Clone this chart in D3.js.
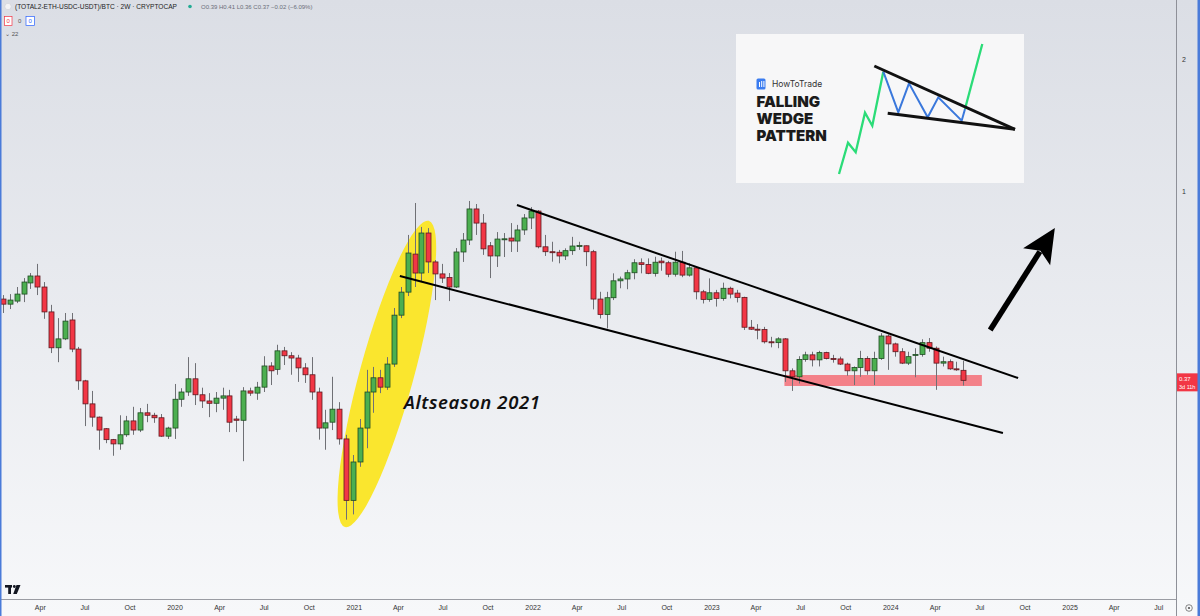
<!DOCTYPE html>
<html><head><meta charset="utf-8">
<script src="https://cdn.jsdelivr.net/npm/d3@7"></script>
<style>html,body{margin:0;padding:0;background:#fff;overflow:hidden}svg{display:block}</style>
</head><body>
<svg id="c" width="1200" height="616"></svg>
<script>
// ---------------- DATA ----------------
const symbolTitle = "(TOTAL2-ETH-USDC-USDT)/BTC · 2W · CRYPTOCAP";
const legendOHLC = "O0.39 H0.41 L0.36 C0.37 −0.02 (−6.09%)";
const firstBarDate = "2019-01-16";
const barDays = 14;
const open  = [.567,.552,.561,.582,.617,.640,.604,.530,.439,.460,.508,.436,.369,.327,.305,.287,.271,.265,.278,.299,.285,.312,.308,.304,.276,.288,.335,.348,.373,.343,.332,.328,.337,.341,.302,.300,.350,.346,.357,.399,.392,.432,.421,.416,.395,.381,.348,.288,.297,.318,.272,.197,.241,.288,.348,.375,.357,.403,.521,.588,.718,.650,.802,.689,.647,.635,.604,.726,.773,.910,.845,.750,.711,.777,.781,.769,.815,.868,.900,.746,.727,.725,.711,.731,.748,.750,.727,.567,.523,.571,.624,.630,.651,.686,.680,.649,.692,.686,.646,.688,.643,.668,.589,.566,.586,.569,.600,.585,.572,.489,.484,.483,.453,.451,.460,.389,.377,.413,.423,.412,.428,.415,.414,.403,.389,.396,.415,.389,.415,.467,.448,.430,.405,.422,.424,.451,.438,.405,.408,.393,.39];
const high  = [.579,.582,.604,.633,.650,.682,.620,.550,.513,.527,.527,.441,.371,.350,.306,.288,.272,.308,.307,.322,.320,.327,.312,.310,.290,.363,.355,.418,.405,.356,.346,.348,.356,.352,.307,.357,.356,.367,.420,.407,.446,.441,.429,.423,.405,.418,.356,.317,.377,.330,.278,.250,.302,.391,.397,.391,.418,.541,.604,.794,.939,.828,.823,.696,.682,.650,.741,.802,.949,.934,.886,.765,.806,.802,.845,.837,.886,.919,.905,.794,.766,.734,.740,.786,.766,.751,.734,.589,.589,.649,.638,.661,.699,.702,.702,.708,.705,.693,.727,.730,.684,.672,.595,.632,.595,.618,.605,.595,.574,.508,.497,.490,.465,.464,.462,.394,.420,.430,.430,.432,.430,.423,.419,.406,.398,.432,.420,.430,.474,.471,.451,.438,.430,.438,.459,.462,.442,.419,.413,.408,.41];
const low   = [.527,.538,.555,.558,.598,.579,.511,.427,.407,.457,.429,.352,.291,.290,.257,.266,.249,.257,.275,.278,.282,.297,.296,.275,.272,.272,.322,.341,.325,.320,.305,.313,.317,.282,.282,.242,.341,.334,.348,.361,.381,.401,.381,.367,.365,.334,.271,.257,.285,.264,.178,.183,.235,.259,.312,.346,.352,.397,.513,.576,.604,.620,.650,.564,.617,.561,.601,.689,.753,.794,.715,.633,.671,.707,.726,.726,.794,.819,.740,.711,.690,.684,.696,.715,.734,.674,.537,.512,.486,.564,.600,.597,.629,.649,.646,.638,.658,.636,.638,.636,.638,.566,.554,.559,.545,.562,.569,.557,.482,.482,.459,.449,.440,.438,.367,.350,.364,.408,.398,.398,.413,.406,.401,.379,.361,.377,.381,.361,.412,.391,.419,.403,.401,.376,.419,.430,.352,.398,.391,.389,.36];
const close = [.552,.564,.582,.620,.640,.604,.530,.439,.460,.505,.436,.369,.327,.305,.285,.271,.265,.278,.299,.285,.312,.308,.304,.276,.288,.335,.348,.373,.343,.332,.328,.337,.341,.297,.300,.350,.346,.357,.399,.389,.432,.421,.416,.395,.381,.348,.288,.296,.318,.272,.197,.241,.288,.348,.375,.357,.403,.521,.588,.722,.650,.802,.689,.647,.633,.604,.726,.773,.910,.845,.738,.711,.777,.778,.769,.815,.868,.900,.746,.727,.725,.711,.731,.749,.751,.727,.567,.523,.571,.624,.630,.651,.686,.680,.649,.688,.686,.646,.688,.643,.668,.589,.566,.586,.569,.600,.582,.572,.489,.484,.483,.453,.451,.460,.389,.377,.413,.423,.412,.428,.415,.414,.403,.389,.396,.415,.389,.415,.467,.448,.430,.405,.419,.424,.451,.438,.405,.408,.393,.392,.37];
const priceTicks = [1, 2];
const timeTickDates  = ["2019-04-01","2019-07-01","2019-10-01","2020-01-01","2020-04-01","2020-07-01","2020-10-01","2021-01-01","2021-04-01","2021-07-01","2021-10-01","2022-01-01","2022-04-01","2022-07-01","2022-10-01","2023-01-01","2023-04-01","2023-07-01","2023-10-01","2024-01-01","2024-04-01","2024-07-01","2024-10-01","2025-01-01","2025-04-01","2025-07-01"];
const timeTickLabels = ["Apr","Jul","Oct","2020","Apr","Jul","Oct","2021","Apr","Jul","Oct","2022","Apr","Jul","Oct","2023","Apr","Jul","Oct","2024","Apr","Jul","Oct","2025","Apr","Jul"];
// drawings, anchored in (date, price)
const upperLine = [["2021-11-30", 0.929], ["2024-09-18", 0.3745]];
const lowerLine = [["2021-04-05", 0.640], ["2024-08-18", 0.2806]];
const supportZone = [["2023-05-30", 0.3805], ["2024-07-06", 0.3592]];
const altEllipse = [["2020-12-14", 0.1713], ["2021-06-03", 0.855]];
const altLabel = ["2021-04-13", 0.318, "Altseason 2021"];
const arrowPts = [["2024-07-23", 0.482], ["2024-12-02", 0.8235]];
const countdown = "3d 11h";

// ---------------- CHART ----------------
const W = 1200, H = 616, plotR = 1176, plotB = 599;
const svg = d3.select("#c");
const defs = svg.append("defs");
const g0 = defs.append("linearGradient").attr("id","bg").attr("x1",0).attr("y1",0).attr("x2",0).attr("y2",1);
g0.append("stop").attr("offset","0%").attr("stop-color","#dbdee5");
g0.append("stop").attr("offset","100%").attr("stop-color","#f7f8fa");
defs.append("clipPath").attr("id","plot").append("rect").attr("x",0).attr("y",0).attr("width",plotR).attr("height",plotB);
svg.append("rect").attr("width",W).attr("height",H).attr("fill","url(#bg)");

const pd = s => new Date(s + "T00:00:00Z");
const x = d3.scaleUtc().domain([pd("2020-01-01"), pd("2025-01-01")]).range([174.5, 174.5 + 0.4899 * 1827]);
const y = d3.scaleLog().domain([1, 2]).range([191, 59]);

const t0 = pd(firstBarDate);
const bars = open.map((o, i) => ({t: d3.utcDay.offset(t0, i * barDays), o, h: high[i], l: low[i], c: close[i]}));

const plot = svg.append("g").attr("clip-path","url(#plot)");

// yellow ellipse (under candles)
{
  const p1 = [x(pd(altEllipse[0][0])), y(altEllipse[0][1])];
  const p2 = [x(pd(altEllipse[1][0])), y(altEllipse[1][1])];
  const cx = (p1[0]+p2[0])/2, cy = (p1[1]+p2[1])/2;
  const rx = Math.hypot(p2[0]-p1[0], p2[1]-p1[1]) / 2;
  const ang = Math.atan2(p2[1]-p1[1], p2[0]-p1[0]) * 180 / Math.PI;
  plot.append("ellipse").attr("cx",cx).attr("cy",cy).attr("rx",rx).attr("ry",27)
    .attr("transform",`rotate(${ang},${cx},${cy})`).attr("fill","#fae62e");
}
// support zone
plot.append("rect")
  .attr("x", x(pd(supportZone[0][0]))).attr("y", y(supportZone[0][1]))
  .attr("width", x(pd(supportZone[1][0])) - x(pd(supportZone[0][0])))
  .attr("height", y(supportZone[1][1]) - y(supportZone[0][1]))
  .attr("fill","#f56d77").attr("opacity",0.85);

// candles
const bw = 5;
const cg = plot.append("g");
cg.selectAll("line.w").data(bars).join("line").attr("class","w")
  .attr("x1", d => Math.round(x(d.t)) + 0.5).attr("x2", d => Math.round(x(d.t)) + 0.5)
  .attr("y1", d => y(d.h)).attr("y2", d => y(d.l))
  .attr("stroke","#6f7075").attr("stroke-width",1);
cg.selectAll("rect.b").data(bars).join("rect").attr("class","b")
  .attr("x", d => Math.round(x(d.t)) + 0.5 - bw/2)
  .attr("y", d => Math.min(y(d.o), y(d.c)))
  .attr("width", bw)
  .attr("height", d => Math.max(1, Math.abs(y(d.o) - y(d.c))))
  .attr("fill", d => d.c >= d.o ? "#4caf50" : "#f23645")
  .attr("stroke", d => d.c >= d.o ? "#1f4a22" : "#5c1a20")
  .attr("stroke-width", 0.8);

// wedge lines
[upperLine, lowerLine].forEach(L => {
  plot.append("line")
    .attr("x1", x(pd(L[0][0]))).attr("y1", y(L[0][1]))
    .attr("x2", x(pd(L[1][0]))).attr("y2", y(L[1][1]))
    .attr("stroke","#000").attr("stroke-width",2);
});

// arrow
{
  const a = [x(pd(arrowPts[0][0])), y(arrowPts[0][1])];
  const b = [x(pd(arrowPts[1][0])), y(arrowPts[1][1])];
  const len = Math.hypot(b[0]-a[0], b[1]-a[1]);
  const u = [(b[0]-a[0])/len, (b[1]-a[1])/len], n = [-u[1], u[0]];
  const hl = 34, hw = 16;
  const base = [b[0]-hl*u[0], b[1]-hl*u[1]];
  plot.append("line").attr("x1",a[0]).attr("y1",a[1]).attr("x2",base[0]+6*u[0]).attr("y2",base[1]+6*u[1])
    .attr("stroke","#000").attr("stroke-width",5.5);
  plot.append("path").attr("d", d3.line()([b, [base[0]+hw*n[0], base[1]+hw*n[1]], [base[0]+7*u[0], base[1]+7*u[1]], [base[0]-hw*n[0], base[1]-hw*n[1]]]) + "Z")
    .attr("fill","#000");
}

// label
plot.append("text").attr("x", x(pd(altLabel[0]))).attr("y", y(altLabel[1]))
  .attr("font-family","'Noto Sans', 'Open Sans', sans-serif").attr("font-style","italic").attr("font-weight",600)
  .attr("font-size",18.5).attr("letter-spacing",0.6).attr("fill","#111").text(altLabel[2]);

// ---------------- inset image ----------------
{
  const ix = 736, iy = 34;
  const inset = svg.append("g").attr("transform",`translate(${ix},${iy})`);
  inset.append("rect").attr("width",288).attr("height",149).attr("fill","#f7f7f8");
  inset.append("rect").attr("x",20.5).attr("y",44.5).attr("width",9).attr("height",11).attr("rx",1.5).attr("fill","#3b7cf0");
  [23,25.2,27.4].forEach((bx,i)=> inset.append("rect").attr("x",bx).attr("y",47+ (i===0?1:0)).attr("width",1).attr("height",6-(i===0?1:0)).attr("fill","#fff"));
  inset.append("text").attr("x",36).attr("y",53).attr("font-family","Inter, 'Open Sans', sans-serif").attr("font-size",8.5).attr("fill","#333").text("HowToTrade");
  ["FALLING","WEDGE","PATTERN"].forEach((t,i)=> inset.append("text").attr("x",20.5).attr("y",73 + i*17)
      .attr("font-family","Inter, 'Open Sans', sans-serif").attr("font-weight",900).attr("font-size",15).attr("fill","#1b1b1b").text(t));
  const L = d3.line();
  const green1 = [[103,140],[112,108.7],[119.7,118.3],[129,78.7],[136.3,91.7],[147.3,37.7]];
  const blue = [[147.3,37.7],[162.3,78.3],[173,49.3],[191.7,83.3],[202.3,63.3],[225.7,86.7],[229,75]];
  const green2 = [[229,75],[246.3,10]];
  inset.append("path").attr("d",L(green1)).attr("fill","none").attr("stroke","#2bdc78").attr("stroke-width",2.3).attr("stroke-linejoin","miter");
  inset.append("path").attr("d",L(blue)).attr("fill","none").attr("stroke","#3a78dc").attr("stroke-width",2);
  inset.append("path").attr("d",L(green2)).attr("fill","none").attr("stroke","#2bdc78").attr("stroke-width",2.3);
  inset.append("path").attr("d",L([[138.3,32],[279,95.3]])).attr("stroke","#111").attr("stroke-width",3);
  inset.append("path").attr("d",L([[151.7,79.3],[279,95.3]])).attr("stroke","#111").attr("stroke-width",3);
}

// ---------------- axes ----------------
svg.append("line").attr("x1",plotR+0.5).attr("x2",plotR+0.5).attr("y1",0).attr("y2",H).attr("stroke","#8e9098").attr("stroke-width",1);
svg.append("line").attr("x1",0).attr("x2",plotR).attr("y1",plotB+0.5).attr("y2",plotB+0.5).attr("stroke","#9a9ca3").attr("stroke-width",1);

const xAxis = d3.axisBottom(x).tickValues(timeTickDates.map(pd)).tickSize(0).tickPadding(0)
  .tickFormat((d,i) => timeTickLabels[i]);
const xg = svg.append("g").attr("transform",`translate(0,${plotB+6})`).call(xAxis);
xg.select(".domain").remove();
xg.selectAll("text").attr("font-family","'Liberation Sans', Arial, sans-serif").attr("font-size",7).attr("fill","#333");

const yAxis = d3.axisRight(y).tickValues(priceTicks).tickSize(0).tickPadding(0).tickFormat(d3.format("d"));
const yg = svg.append("g").attr("transform",`translate(${plotR+6},0)`).call(yAxis);
yg.select(".domain").remove();
yg.selectAll("text").attr("font-family","'Liberation Sans', Arial, sans-serif").attr("font-size",7).attr("fill","#333");

// last price label
{
  const last = bars[bars.length-1];
  const yl = y(last.c);
  svg.append("rect").attr("x",plotR+1).attr("y",yl-7).attr("width",21).attr("height",18).attr("fill","#f23645");
  svg.append("text").attr("x",plotR+3).attr("y",yl+1).attr("font-family","'Liberation Sans', Arial, sans-serif").attr("font-size",6).attr("fill","#fff").text(d3.format(".2f")(last.c));
  svg.append("text").attr("x",plotR+3).attr("y",yl+8.5).attr("font-family","'Liberation Sans', Arial, sans-serif").attr("font-size",5.5).attr("fill","#fff").text(countdown);
}

// header
const hdr = svg.append("g").attr("font-family","'Liberation Sans', Arial, sans-serif");
hdr.append("circle").attr("cx",8).attr("cy",6.5).attr("r",3.2).attr("fill","#f3f3f5").attr("stroke","#c8cad0").attr("stroke-width",0.5);
hdr.append("text").attr("x",15).attr("y",9).attr("font-size",6.6).attr("fill","#222").attr("textLength",162).text(symbolTitle);
hdr.append("circle").attr("cx",190).attr("cy",6.5).attr("r",1.8).attr("fill","#22ab94");
hdr.append("text").attr("x",201).attr("y",9).attr("font-size",6).attr("fill","#6a6d78").text(legendOHLC);
hdr.append("rect").attr("x",4.5).attr("y",16.5).attr("width",7.5).attr("height",9).attr("fill","#fff").attr("stroke","#f23645").attr("stroke-width",0.7);
hdr.append("text").attr("x",6.6).attr("y",23.3).attr("font-size",6).attr("fill","#f23645").text("0");
hdr.append("text").attr("x",18).attr("y",23.3).attr("font-size",6).attr("fill","#555").text("0");
hdr.append("rect").attr("x",26).attr("y",16.5).attr("width",8.5).attr("height",9).attr("fill","#fff").attr("stroke","#2962ff").attr("stroke-width",0.7);
hdr.append("text").attr("x",28.5).attr("y",23.3).attr("font-size",6).attr("fill","#2962ff").text("0");
hdr.append("text").attr("x",5).attr("y",36).attr("font-size",6).attr("fill","#555").text("⌄ 22");

// TradingView logo
{
  const lg = svg.append("g").attr("fill","#131722");
  lg.append("rect").attr("x",5).attr("y",585).attr("width",7).attr("height",2.6);
  lg.append("rect").attr("x",8.2).attr("y",585).attr("width",2.8).attr("height",9);
  lg.append("circle").attr("cx",14.3).attr("cy",586.5).attr("r",1.4);
  lg.append("path").attr("d","M16.5,585 L20.5,585 L16.8,594 L13.2,594 Z");
}
// bottom-right icon
svg.append("circle").attr("cx",1189).attr("cy",608).attr("r",3.3).attr("fill","none").attr("stroke","#555").attr("stroke-width",0.7);
svg.append("circle").attr("cx",1189).attr("cy",608).attr("r",1.1).attr("fill","#555");

// frame (blue borders)
svg.append("rect").attr("x",0).attr("y",0).attr("width",1.5).attr("height",H).attr("fill","#4a7bd9");
svg.append("rect").attr("x",1197.5).attr("y",0).attr("width",2.5).attr("height",H).attr("fill","#4a7bd9");
</script>
</body></html>
